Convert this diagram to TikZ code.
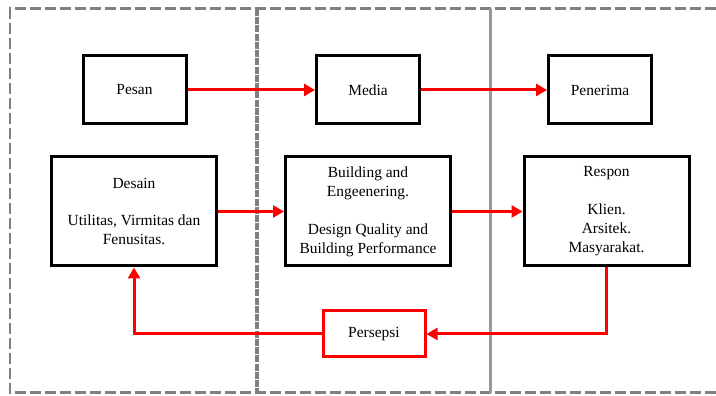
\documentclass[tikz,border=0pt]{standalone}
\usepackage{fontspec}
\setmainfont{Liberation Serif}
\usetikzlibrary{arrows.meta}

\begin{document}
\begin{tikzpicture}[
    kader/.style={draw=black, line width=0.06cm, minimum width=2.06cm, minimum height=1.36cm, align=center, inner sep=0pt},
    grootkader/.style={kader, minimum width=3.3cm, minimum height=2.18cm},
    pijl/.style={draw=red, line width=0.06cm, -{Triangle[length=0.22cm, width=0.24cm]}},
    rand/.style={gray, line width=0.06cm, dash pattern=on 0.22cm off 0.08cm},
    font=\fontsize{8.8}{10.8}\selectfont
]
    \useasboundingbox (0,0) rectangle (14.32,7.92);

    % Teken de gestreepte rand en de scheidingslijnen
    \draw[rand] (14.32,7.74) -- (0.2,7.74) -- (0.2,0.06) -- (14.32,0.06);
    \draw[gray, line width=0.07cm, dash pattern=on 0.14cm off 0.025cm] (5.14,7.74) -- (5.14,0.06); % eerste lijn
    \draw[gray!80, line width=0.06cm] (9.8,7.74) -- (9.8,0.06); % tweede lijn

    % Bovenste rij: boodschap
    \node[kader] (pesan) at (2.69,6.12) {Pesan};
    \node[kader] (media) at (7.36,6.12) {Media};
    \node[kader] (penerima) at (12.0,6.12) {Penerima};

    % Middelste rij: de uitwerking
    \node[grootkader] (desain) at (2.68,3.69) {Desain\\[10.8pt]Utilitas, Virmitas dan\\Fenusitas.};
    \node[grootkader] (building) at (7.36,3.69) {Building and\\Engeenering.\\[10.8pt]Design Quality and\\Building Performance};
    \node[grootkader] (respon) at (12.13,3.69) {Respon\\[10.8pt]Klien.\\Arsitek.\\Masyarakat.};

    % Terugkoppeling
    \node[kader, draw=red, minimum width=2.04cm, minimum height=0.92cm] (persepsi) at (7.48,1.24) {Persepsi};

    % Pijlen
    \draw[pijl] (pesan) -- (media);
    \draw[pijl] (media) -- (penerima);
    \draw[pijl] (desain) -- (building);
    \draw[pijl] (building) -- (respon);
    \draw[pijl] (respon.south) |- (persepsi.east);
    \draw[pijl] (persepsi.west) -| (desain.south);

\end{tikzpicture}
\end{document}
